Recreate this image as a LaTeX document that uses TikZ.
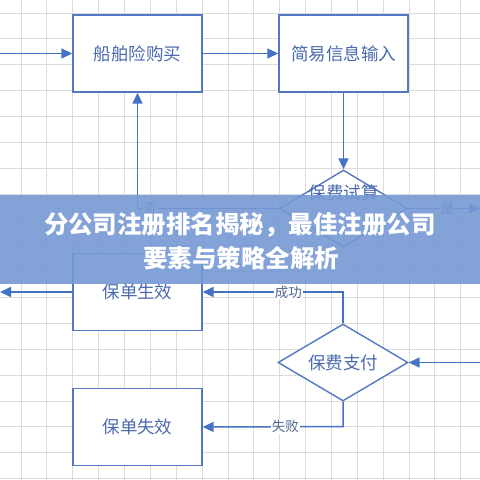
\documentclass[tikz,border=0pt]{standalone}
\usepackage{fontspec}
\newfontfamily\cjk{Noto Sans CJK SC}
\usetikzlibrary{arrows.meta,shapes.geometric}
\definecolor{linec}{HTML}{4472C4}
\definecolor{boxc}{HTML}{5378C2}
\definecolor{txtc}{HTML}{4A6AAE}
\definecolor{labc}{HTML}{50658F}
\definecolor{gridc}{HTML}{DCDCDC}
\definecolor{bannerc}{HTML}{7598D4}
\tikzset{
  stepbox/.style={draw=boxc, line width=1.4pt, fill=white, minimum width=129pt, minimum height=77pt, inner sep=0pt, font=\cjk\fontsize{17.5}{20}\selectfont, text=txtc},
  dia/.style={draw=boxc, diamond, line width=1.4pt, fill=white, inner sep=0pt, minimum width=128pt, minimum height=77pt},
  diatxt/.style={font=\cjk\fontsize{17.5}{20}\selectfont, text=txtc, inner sep=0pt},
  arr/.style={draw=linec, line width=1.5pt, -{Triangle[length=11pt,width=10pt]}},
  lab/.style={fill=white, font=\cjk\fontsize{13.5}{15}\selectfont, text=labc, inner sep=1pt},
  bantxt/.style={font=\cjk\bfseries\fontsize{24.5}{28}\selectfont, text=white, inner sep=0pt}
}
\begin{document}
\begin{tikzpicture}[x=1pt,y=-1pt]
\useasboundingbox (0,0) rectangle (480,480);
\fill[white] (0,0) rectangle (480,480);
% grid
\foreach \i in {0,...,18} {
  \draw[gridc, line width=0.9pt] (21+\i*25.87,0) -- (21+\i*25.87,480);
  \draw[gridc, line width=0.9pt] (0,13+\i*25.87) -- (480,13+\i*25.87);
}
% nodes
\node[stepbox] (buy) at (137.5,53.5) {船舶险购买};
\node[stepbox] (info) at (343.5,53.5) {简易信息输入};
\node[dia] (calc) at (343.5,208.5) {};
\node[diatxt] (calct) at (343.5,193) {保费试算};
\node[stepbox] (eff) at (137.5,292) {保单生效};
\node[dia, minimum width=130pt] (pay) at (343,362.5) {};
\node[diatxt] (payt) at (343,362.5) {保费支付};
\node[stepbox] (fail) at (137.5,427) {保单失效};
% coordinates
\coordinate (inL) at (0,53.5);
\coordinate (yesR) at (480,208.5);
\coordinate (noC) at (137.5,208.5);
\coordinate (outL) at (0,292);
\coordinate (okC) at (343,292);
\coordinate (payR) at (480,362.5);
\coordinate (failC) at (343,426.5);
% connectors
\draw[arr] (inL) -- (buy.west);
\draw[arr] (buy.east) -- (info.west);
\draw[arr] (info.south) -- (calc.north);
\draw[arr] (calc.east) -- node[lab, pos=0.55] {是} (yesR);
\draw[arr] (calc.west) -- node[lab, pos=0.91] {否} (noC) -- (buy.south);
\draw[arr] (eff.west) -- (outL);
\draw[arr] (pay.north) -- (okC) -- node[lab, pos=0.39] {成功} (eff.east);
\draw[arr] (payR) -- (pay.east);
\draw[arr] (pay.south) -- (failC) -- node[lab, pos=0.41] {失败} (fail.east);
% banner
\fill[bannerc, opacity=0.9] (0,195) rectangle (480,284);
\node[bantxt] (ban1) at (240,225) {分公司注册排名揭秘，最佳注册公司};
\node[bantxt] (ban2) at (241,258) {要素与策略全解析};
\end{tikzpicture}
\end{document}
